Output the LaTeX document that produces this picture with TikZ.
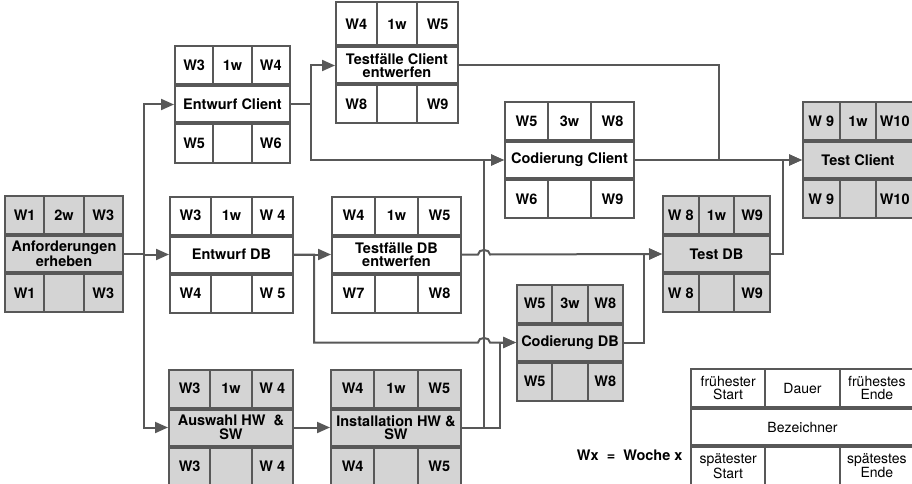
\documentclass[tikz,border=0pt]{standalone}
\usepackage{fontspec}
\setmainfont{TeX Gyre Heros}
\usetikzlibrary{arrows.meta,calc}

\definecolor{dunkel}{HTML}{585858}
\definecolor{grau}{HTML}{D4D4D4}

\newcommand{\legfont}{\mdseries\fontsize{14}{13}\selectfont}

\tikzset{
    boxw/.store in=\boxw, boxw=120,
    hoben/.store in=\hoben, hoben=38,
    boxfill/.store in=\boxfill, boxfill=white,
    tfont/.store in=\tfont, tfont={\bfseries\fontsize{14.5}{13.5}\selectfont},
}

% Vorgangsknoten: Name, Lage, Optionen, FS, Dauer, FE, Bezeichner, SS, SE
\newcommand{\vorgang}[9]{%
    \begin{scope}[#3]
    \node[mitte] (#1) at #2 {#7};
    \node[zelle, minimum height=\hoben*1pt, anchor=south west] (#1-fs) at (#1.north west) {#4};
    \node[zelle, minimum height=\hoben*1pt, anchor=south] (#1-d) at (#1.north) {#5};
    \node[zelle, minimum height=\hoben*1pt, anchor=south east] (#1-fe) at (#1.north east) {#6};
    \node[zelle, anchor=north west] (#1-ss) at (#1.south west) {#8};
    \node[zelle, anchor=north] (#1-p) at (#1.south) {};
    \node[zelle, anchor=north east] (#1-se) at (#1.south east) {#9};
    \end{scope}}

% Sprung ueber eine senkrechte Linie
\newcommand{\sprung}[2]{([xshift=-6pt]#1 |- #2) .. controls ([xshift=-6pt,yshift=6pt]#1 |- #2) and ([xshift=6pt,yshift=6pt]#1 |- #2) .. ([xshift=6pt]#1 |- #2)}

\begin{document}
\begin{tikzpicture}[x=1pt, y=-1pt,
    zelle/.style={draw=dunkel, line width=2pt, fill=\boxfill, inner sep=0pt, align=center,
        font=\tfont, minimum width=\boxw*1pt/3, minimum height=38pt},
    mitte/.style={zelle, minimum width=\boxw*1pt, minimum height=36pt},
    pfeil/.style={draw=dunkel, line width=2pt, -{Triangle[length=13pt,width=11pt]}},
    weg/.style={draw=dunkel, line width=2pt},
    ]
    \useasboundingbox (0,0) rectangle (912,484);

    \vorgang{anf}{(64,254)}{boxw=118, boxfill=grau}{W1}{2w}{W3}{Anforderungen\\erheben}{W1}{W3}
    \vorgang{ec}{(232.5,104.5)}{boxw=115}{W3}{1w}{W4}{Entwurf Client}{W5}{W6}
    \vorgang{tc}{(397,65.5)}{boxw=122, hoben=43}{W4}{1w}{W5}{Testfälle Client\\entwerfen}{W8}{W9}
    \vorgang{cc}{(569.5,160)}{boxw=129}{W5}{3w}{W8}{Codierung Client}{W6}{W9}
    \vorgang{tcl}{(858,160)}{boxw=110, boxfill=grau}{W 9}{1w}{W10}{Test Client}{W 9}{W10}
    \vorgang{edb}{(231.5,254.5)}{boxw=123}{W3}{1w}{W 4}{Entwurf DB}{W4}{W 5}
    \vorgang{tdb}{(396.5,254.5)}{boxw=129}{W4}{1w}{W5}{Testfälle DB\\entwerfen}{W7}{W8}
    \vorgang{testdb}{(716.5,254)}{boxw=107, boxfill=grau}{W 8}{1w}{W9}{Test DB}{W 8}{W9}
    \vorgang{cdb}{(570,342.5)}{boxw=106, boxfill=grau}{W5}{3w}{W8}{Codierung DB}{W5}{W8}
    \vorgang{aus}{(231,427.5)}{boxw=124, boxfill=grau}{W3}{1w}{W 4}{Auswahl HW~ \&\\SW}{W3}{W 4}
    \vorgang{inst}{(396,427.5)}{boxw=130, boxfill=grau}{W4}{1w}{W5}{Installation HW \&\\SW}{W4}{W5}
    \vorgang{leg}{(802.5,427)}{boxw=223, tfont=\legfont}{frühester\\Start}{Dauer}{frühestes\\Ende}{Bezeichner}{spätester\\Start}{spätestes\\Ende}

    \node[font=\bfseries\fontsize{14.5}{14}\selectfont, anchor=east] (wx) at (686,455) {Wx~~=~~Woche x};

    \path (inst.east) ++(22,0) coordinate (k1) ++(16,0) coordinate (k2);

    \draw[pfeil] (anf.east) -- ++(20,0) |- (ec.west);
    \draw[pfeil] (anf.east) -- ++(20,0) |- (edb.west);
    \draw[pfeil] (anf.east) -- ++(20,0) |- (aus.west);
    \draw[pfeil] (ec.east) -- ++(20,0) |- (tc.west);
    \draw[pfeil] (ec.east) -- ++(20,0) |- (cc.west);
    \draw[pfeil] (edb.east) -- (tdb.west);
    \draw[pfeil] (edb.east) -- ++(20,0) |- \sprung{k1}{cdb.west} -- (cdb.west);
    \draw[pfeil] (aus.east) -- (inst.west);
    \draw[pfeil] (inst.east) -- (k1) |- (cc.west);
    \draw[pfeil] (inst.east) -- (k2) |- (cdb.west);
    \draw[pfeil] (tdb.east) -- \sprung{k1}{tdb.east} -- (testdb.west);
    \draw[pfeil] (cdb.east) -- ++(20,0) |- (testdb.west);
    \draw[weg] (tc.east) -| ($(cc.east)!.5!(tcl.west)$);
    \draw[pfeil] (cc.east) -- (tcl.west);
    \draw[pfeil] (testdb.east) -- ++(12,0) |- (tcl.west);
\end{tikzpicture}
\end{document}
